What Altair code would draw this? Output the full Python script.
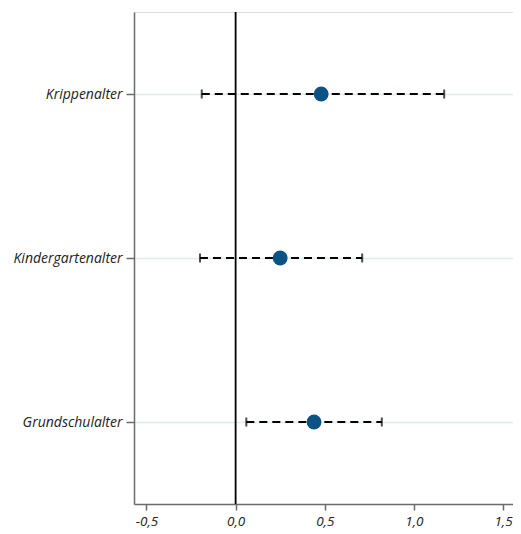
import altair as alt
import pandas as pd

categories = ["Krippenalter", "Kindergartenalter", "Grundschulalter"]
estimates = [0.48, 0.25, 0.44]
ci_low = [-0.19, -0.20, 0.06]
ci_high = [1.17, 0.71, 0.82]

df = pd.DataFrame({"cat": categories, "est": estimates, "lo": ci_low, "hi": ci_high})
zero = pd.DataFrame({"x": [0.0]})

FONT = "Open Sans"
xscale = alt.Scale(domain=[-0.5701, 1.5561], nice=False, zero=False)
yscale = alt.Scale(type="point", domain=categories, padding=0.5)

xaxis = alt.Axis(
    values=[-0.5, 0, 0.5, 1.0, 1.5],
    labelExpr="replace(replace(format(datum.value, '.1f'), '.', ','), '\u2212', '-')",
    title=None, grid=False, domainColor="#6b6b6b", tickColor="#6b6b6b",
    domainWidth=1.5, tickWidth=1.5, tickSize=6, labelFont=FONT, labelFontStyle="italic",
    labelFontSize=13.5, labelColor="#222222", labelPadding=4,
)
yaxis = alt.Axis(
    title=None, grid=True, gridColor="#dcecef", gridWidth=1.5,
    domainColor="#6b6b6b", tickColor="#6b6b6b", domainWidth=1.5, tickWidth=1.5, tickSize=8,
    labelFont=FONT, labelFontStyle="italic", labelFontSize=14, labelColor="#222222", labelPadding=4,
)

base = alt.Chart(df)

grid = base.mark_point(opacity=0).encode(
    x=alt.X("est:Q", scale=xscale, axis=xaxis),
    y=alt.Y("cat:N", scale=yscale, axis=yaxis, sort=categories),
)

zline = alt.Chart(zero).mark_rule(color="black", strokeWidth=1.8).encode(
    x=alt.X("x:Q", scale=xscale)
)

bars = base.mark_rule(color="black", strokeWidth=2, strokeDash=[8, 5]).encode(
    x=alt.X("lo:Q", scale=xscale),
    x2="hi:Q",
    y=alt.Y("cat:N", scale=yscale, sort=categories),
)

cap_lo = base.mark_tick(color="black", thickness=2, size=9, orient="vertical").encode(
    x=alt.X("lo:Q", scale=xscale),
    y=alt.Y("cat:N", scale=yscale, sort=categories),
)
cap_hi = base.mark_tick(color="black", thickness=2, size=9, orient="vertical").encode(
    x=alt.X("hi:Q", scale=xscale),
    y=alt.Y("cat:N", scale=yscale, sort=categories),
)

pts = base.mark_circle(color="#0b5384", opacity=1, size=220).encode(
    x=alt.X("est:Q", scale=xscale),
    y=alt.Y("cat:N", scale=yscale, sort=categories),
)

chart = alt.layer(grid, zline, bars, cap_lo, cap_hi, pts).properties(
    width=379, height=492,
    autosize=alt.AutoSizeParams(type="none"),
    padding={"left": 126, "top": 4, "right": 0, "bottom": 30},
).configure_view(stroke=None).configure(background="white")

chart.save("out.html", embed_options={"renderer": "svg", "actions": False})
